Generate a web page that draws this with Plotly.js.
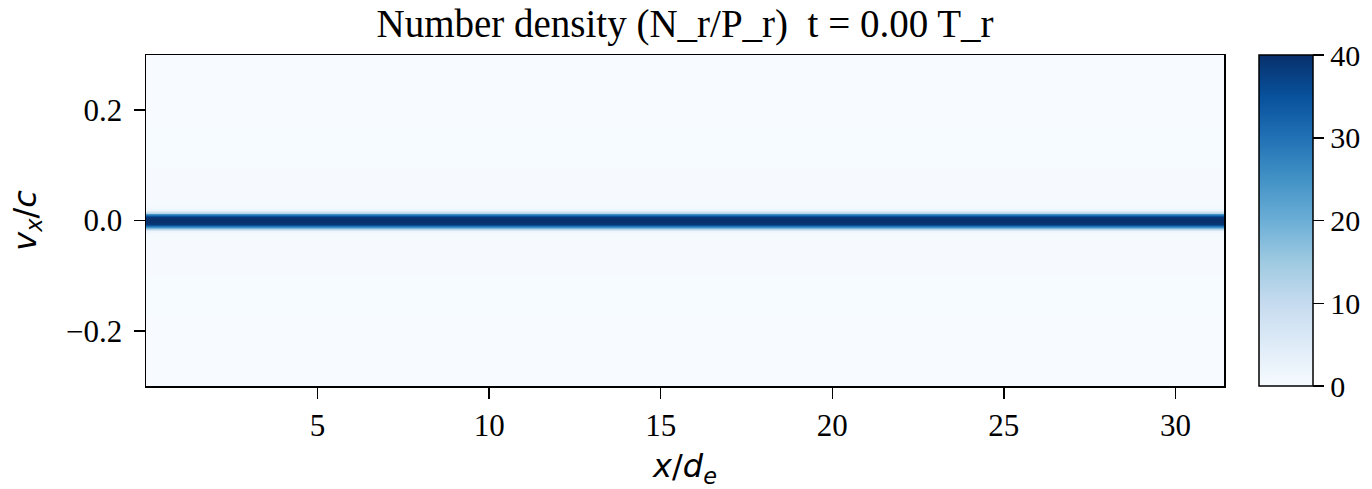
<!DOCTYPE html>
<html>
<head>
<meta charset="utf-8">
<script src="https://cdn.plot.ly/plotly-3.0.1.min.js"></script>
<style>html,body{margin:0;padding:0;background:#fff;}#chart{width:1372px;height:489px;}</style>
</head>
<body>
<div id="chart"></div>
<script>
// x positions (x/d_e) of the grid columns: the band is uniform along x at t = 0
const xPos = [0, 31.4159];
// velocity grid (v_x/c) and the density profile read across the band
const vxPos = [-0.3, -0.04, -0.025, -0.019, -0.0145, -0.012, -0.009, -0.006, 0, 0.006, 0.009, 0.012, 0.0145, 0.019, 0.025, 0.04, 0.3];
const density = [0, 0.2, 0.6, 2, 12, 25, 35, 39, 40, 39, 35, 25, 12, 2, 0.6, 0.2, 0];
const xTickVals = [5, 10, 15, 20, 25, 30];
const xTickText = ['5', '10', '15', '20', '25', '30'];
const yTickVals = [-0.2, 0, 0.2];
const yTickText = ['\u22120.2', '0.0', '0.2'];
const cbTickVals = [0, 10, 20, 30, 40];
const cbTickText = ['0', '10', '20', '30', '40'];

const z = density.map(v => xPos.map(() => v));

const blues = [
  [0.0, '#f7fbff'], [0.125, '#deebf7'], [0.25, '#c6dbef'], [0.375, '#9ecae1'],
  [0.5, '#6baed6'], [0.625, '#4292c6'], [0.75, '#2171b5'], [0.875, '#08519c'], [1.0, '#08306b']
];

const serif = 'Liberation Serif, Times New Roman, serif';
const sans = 'DejaVu Sans, sans-serif';
const tickSize = 31;

const trace = {
  type: 'heatmap',
  x: xPos,
  y: vxPos,
  z: z,
  zsmooth: 'best',
  zmin: 0,
  zmax: 40,
  colorscale: blues,
  showscale: true,
  colorbar: {
    x: 1.0325, xanchor: 'left', xref: 'paper',
    y: 0.5, yanchor: 'middle', len: 1, lenmode: 'fraction',
    thickness: 54, thicknessmode: 'pixels',
    outlinewidth: 1.5, outlinecolor: '#000',
    tickmode: 'array', tickvals: cbTickVals, ticktext: cbTickText,
    ticks: 'outside', ticklen: 11, tickwidth: 1.5, tickcolor: '#000',
    tickfont: {family: serif, size: 30, color: '#000'},
    xpad: 0, ypad: 0
  },
  hoverinfo: 'skip'
};

const layout = {
  width: 1372, height: 489,
  margin: {l: 146, r: 148, t: 55, b: 103, autoexpand: false},
  paper_bgcolor: '#fff', plot_bgcolor: '#f7fbff',
  title: {
    text: 'Number density (N_r/P_r)  t = 0.00 T_r',
    font: {family: serif, size: 39, color: '#000'},
    x: 0.5, xref: 'paper', xanchor: 'center',
    y: 0.952, yref: 'container', yanchor: 'middle'
  },
  xaxis: {
    range: [0, 31.4159], showgrid: false, zeroline: false,
    tickmode: 'array', tickvals: xTickVals, ticktext: xTickText,
    ticks: 'outside', ticklen: 11, tickwidth: 1.5, tickcolor: '#000',
    showline: true, linecolor: '#000', linewidth: 1.5, mirror: true,
    tickfont: {family: serif, size: tickSize, color: '#000'},
    title: {text: '<i>x</i>/<i>d</i><sub><i>e</i></sub>', font: {family: sans, size: 32, color: '#000'}, standoff: 16}
  },
  yaxis: {
    range: [-0.3, 0.3], showgrid: false, zeroline: false,
    tickmode: 'array', tickvals: yTickVals, ticktext: yTickText,
    ticks: 'outside', ticklen: 11, tickwidth: 1.5, tickcolor: '#000',
    ticklabelstandoff: 5,
    showline: true, linecolor: '#000', linewidth: 1.5, mirror: true,
    tickfont: {family: serif, size: tickSize, color: '#000'},
    title: {text: '<i>v</i><sub><i>x</i></sub>/<i>c</i>', font: {family: sans, size: 32, color: '#000'}, standoff: 20}
  },
  showlegend: false
};

Plotly.newPlot('chart', [trace], layout, {displayModeBar: false, staticPlot: true});
</script>
</body>
</html>
